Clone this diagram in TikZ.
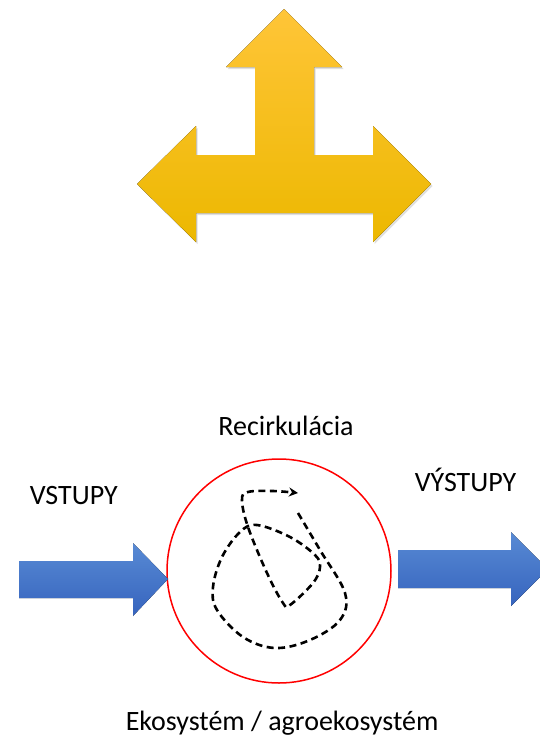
\documentclass[tikz,border=0pt]{standalone}
\usepackage{fontspec}
\setmainfont{Carlito}
\usetikzlibrary{arrows.meta,shadows}

\begin{document}
\begin{tikzpicture}[x=1pt, y=-1pt, line width=1.5pt]
\useasboundingbox (0,0) rectangle (539,736);
% yellow three-way arrow
\fill[top color={rgb,255:red,255;green,197;blue,56}, bottom color={rgb,255:red,236;green,184;blue,0},
  drop shadow={shadow xshift=1.5pt, shadow yshift=-2pt, opacity=0.25}]
  (284,9) -- (342,67) -- (314,67) -- (314,155) -- (373,155) -- (373,126) -- (431,184)
  -- (373,242) -- (373,213) -- (196,213) -- (196,242) -- (137,184) -- (196,126)
  -- (196,155) -- (255,155) -- (255,67) -- (226,67) -- cycle;
% ecosystem
\node[draw=red, circle, minimum size=224pt, inner sep=0pt] (eko) at (279,571) {};
\fill[top color={rgb,255:red,88;green,138;blue,212}, bottom color={rgb,255:red,54;green,100;blue,190}]
  (19,561) -- (133,561) -- (133,543) -- (168,579) -- (133,616) -- (133,598) -- (19,598) -- cycle;
\fill[top color={rgb,255:red,88;green,138;blue,212}, bottom color={rgb,255:red,54;green,100;blue,190}]
  (398,550) -- (511,550) -- (511,532) -- (548,569) -- (511,606) -- (511,588) -- (398,588) -- cycle;
\draw[line width=2.6pt, dash pattern=on 7pt off 4.5pt, -{Stealth[length=9pt, width=9pt]}]
  plot[smooth, tension=0.6] coordinates {(298,513) (320,550) (345,593) (340,620) (310,640)
  (275,648) (243,637) (217,610) (213,587) (222,557) (240,532) (257,525) (290,537) (315,555)
  (320,567) (313,583) (290,605) (283,603) (267,573) (248,527) (242,500) (248,492) (273,491) (298,493)};
\node[font=\fontsize{28}{34}\selectfont, anchor=base] (recir) at (286,435) {Recirkulácia};
\node[font=\fontsize{28}{34}\selectfont, anchor=base west, inner sep=0pt] (vstup) at (29,504) {VSTUPY};
\node[font=\fontsize{28}{34}\selectfont, anchor=base west, inner sep=0pt] (vystup) at (414,491) {VÝSTUPY};
\node[font=\fontsize{28}{34}\selectfont, anchor=base west, inner sep=0pt] (ekolbl) at (125,730) {Ekosystém / agroekosystém};
\end{tikzpicture}
\end{document}
